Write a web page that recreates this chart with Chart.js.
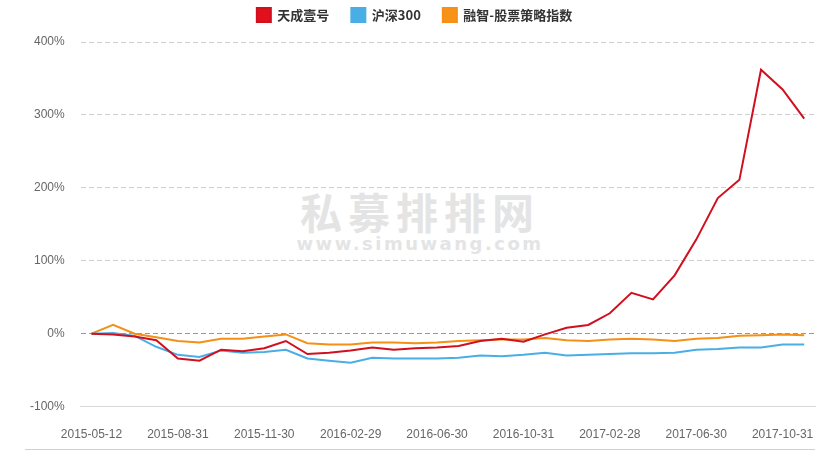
<!DOCTYPE html>
<html>
<head>
<meta charset="utf-8">
<script src="https://cdn.jsdelivr.net/npm/chart.js@4"></script>
<style>
    body { margin: 0; background: #fff; }
    #wrap { position: relative; width: 835px; height: 456px; }
    #chart { position: absolute; left: 0; top: 0; z-index: 1; }
    .mark { position: absolute; left: 0; width: 840px; text-align: center; color: #e4e4e4; font-weight: bold; font-family: "Noto Sans CJK SC", sans-serif; z-index: 0; }
    #line { position: absolute; left: 25px; top: 449px; width: 790px; height: 1px; background: #cfcfcf; }
</style>
</head>
<body>
<div id="wrap">
    <div class="mark" style="top:180px;font-size:42px;letter-spacing:6px;">私募排排网</div>
    <div class="mark" style="top:233px;font-size:18px;letter-spacing:2.5px;font-family:'DejaVu Sans',sans-serif;">www.simuwang.com</div>
    <canvas id="chart" width="835" height="455"></canvas>
    <div id="line"></div>
</div>
<script>
// dates of each point (only every 4th one is shown on the axis)
var dates = ["2015-05-12", "2015-05-29", "2015-06-30", "2015-07-31", "2015-08-31", "2015-09-30",
    "2015-10-30", "2015-11-13", "2015-11-30", "2015-12-31", "2016-01-29", "2016-02-15",
    "2016-02-29", "2016-03-31", "2016-04-29", "2016-05-31", "2016-06-30", "2016-07-29",
    "2016-08-31", "2016-09-30", "2016-10-31", "2016-11-30", "2016-12-30", "2017-01-26",
    "2017-02-28", "2017-03-31", "2017-04-28", "2017-05-31", "2017-06-30", "2017-07-31",
    "2017-08-31", "2017-09-29", "2017-10-31", "2017-11-17"];

// cumulative return, %
var tiancheng = [0, -1, -4, -9, -34, -37, -22, -24, -20, -10, -28, -26,
    -23, -19, -22, -20, -19, -17, -10, -7, -11, -1, 8, 12,
    28, 56, 47, 80, 129, 186, 211, 362, 335, 295];
var hs300 = [0, 1, -3, -18, -29, -32, -23, -26, -25, -22, -34, -37,
    -40, -33, -34, -34, -34, -33, -30, -31, -29, -26, -30, -29,
    -28, -27, -27, -26, -22, -21, -19, -19, -15, -15];
var ruizhi = [0, 12, 0, -5, -10, -12, -7, -7, -4, -1, -13, -15,
    -15, -12, -12, -13, -12, -10, -9, -8, -8, -6, -9, -10,
    -8, -7, -8, -10, -7, -6, -3, -2, -1, -2];

var yTicks = [-100, 0, 100, 200, 300, 400];

var tickFont = { family: "'Liberation Sans', Arial, sans-serif", size: 12 };

// a bit more room under the legend
var legendGap = {
    id: "legendGap",
    beforeInit: function(chart) {
        var fit = chart.legend.fit;
        chart.legend.fit = function() {
            fit.bind(chart.legend)();
            this.height += 10;
        };
    }
};

new Chart(document.getElementById("chart"), {
    type: "line",
    data: {
        labels: dates,
        datasets: [{
            label: "天成壹号",
            data: tiancheng,
            borderColor: "#d0101e",
            backgroundColor: "#e0101c"
        }, {
            label: "沪深300",
            data: hs300,
            borderColor: "#4aaee6",
            backgroundColor: "#4aaee6"
        }, {
            label: "融智-股票策略指数",
            data: ruizhi,
            borderColor: "#f39015",
            backgroundColor: "#f7921a"
        }]
    },
    options: {
        responsive: false,
        animation: false,
        layout: { padding: { left: 14, right: 20, top: -14, bottom: 0 } },
        elements: {
            line: { borderWidth: 2, tension: 0 },
            point: { radius: 0 }
        },
        plugins: {
            legend: {
                labels: {
                    boxWidth: 14,
                    boxHeight: 14,
                    padding: 22,
                    color: "#333",
                    font: { family: "'Noto Sans CJK SC', sans-serif", size: 13, weight: "bold" }
                }
            },
            tooltip: { mode: "index", intersect: false }
        },
        scales: {
            x: {
                offset: true,
                grid: { display: false },
                border: { display: true, color: "#d8d8d8", width: 1 },
                ticks: {
                    autoSkip: false,
                    maxRotation: 0,
                    padding: 13,
                    color: "#666",
                    font: tickFont,
                    callback: function(v, i) { return i % 4 === 0 ? dates[i] : ""; }
                }
            },
            y: {
                min: -100,
                max: 400,
                afterBuildTicks: function(scale) {
                    scale.ticks = yTicks.map(function(v) { return { value: v }; });
                },
                grid: {
                    drawTicks: false,
                    color: function(c) {
                        if (c.tick.value === 0) return "#999";
                        if (c.tick.value === -100) return "rgba(0,0,0,0)";
                        return "#d0d0d0";
                    }
                },
                border: { display: false, dash: [5, 3] },
                ticks: {
                    padding: 16,
                    color: "#666",
                    font: tickFont,
                    callback: function(v) { return v + "%"; }
                }
            }
        }
    },
    plugins: [legendGap]
});
</script>
</body>
</html>
